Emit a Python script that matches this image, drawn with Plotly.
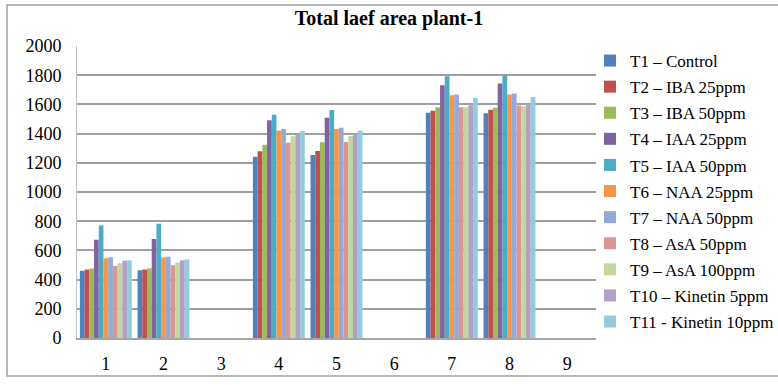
import plotly.graph_objects as go

categories = ["1", "2", "3", "4", "5", "6", "7", "8", "9"]
series_names = ["T1 – Control", "T2 – IBA 25ppm", "T3 – IBA 50ppm", "T4 – IAA 25ppm",
                "T5 – IAA 50ppm", "T6 – NAA 25ppm", "T7 – NAA 50ppm", "T8 – AsA 50ppm",
                "T9 – AsA 100ppm", "T10 – Kinetin 5ppm", "T11 - Kinetin 10ppm"]
# values per series for categories 1..9 (None = empty)
T1 = [460, 464, None, 1242, 1254, None, 1542, 1540, None]
T2 = [469, 469, None, 1279, 1281, None, 1556, 1563, None]
T3 = [476, 478, None, 1324, 1340, None, 1581, 1577, None]
T4 = [673, 678, None, 1491, 1509, None, 1732, 1743, None]
T5 = [771, 783, None, 1529, 1561, None, 1793, 1800, None]
T6 = [546, 551, None, 1422, 1431, None, 1663, 1668, None]
T7 = [553, 557, None, 1431, 1440, None, 1668, 1675, None]
T8 = [494, 498, None, 1338, 1342, None, 1581, 1593, None]
T9 = [512, 517, None, 1381, 1383, None, 1581, 1588, None]
T10 = [530, 532, None, 1390, 1402, None, 1595, 1606, None]
T11 = [532, 539, None, 1418, 1422, None, 1645, 1650, None]
series_values = [T1, T2, T3, T4, T5, T6, T7, T8, T9, T10, T11]
colors = ["#4F81BD", "#C0504D", "#9BBB59", "#8064A2", "#4BACC6", "#F79646",
          "#95A9D6", "#DA9694", "#C3D69B", "#B1A0C7", "#93CDDD"]
y_ticks = [0, 200, 400, 600, 800, 1000, 1200, 1400, 1600, 1800, 2000]

fig = go.Figure()
for i, (name, vals) in enumerate(zip(series_names, series_values)):
    fig.add_trace(go.Bar(x=categories, y=vals, name=name, legendgroup=str(i),
                         marker=dict(color=colors[i], line=dict(width=0))))

W, H = 778, 385
l, r, t, b = 77, 182, 46, 47
pw, ph = W - l - r, H - t - b

def px_x(x):
    return (x - l) / pw

def px_y(y):
    return (H - b - y) / ph

serif = "Liberation Serif, Times New Roman, serif"
fig.update_layout(
    width=W, height=H,
    margin=dict(l=l, r=r, t=t, b=b, autoexpand=False),
    paper_bgcolor="white", plot_bgcolor="white",
    barmode="group", bargap=0.1, bargroupgap=0,
    font=dict(family=serif, size=18, color="black"),
    title=dict(text="<b>Total laef area plant-1</b>", x=0.5, xanchor="center",
               y=1 - 18 / H, yanchor="middle", font=dict(size=20, family=serif)),
    xaxis=dict(type="category", categoryorder="array", categoryarray=categories,
               showgrid=False, showline=True, linecolor="#A6A6A6", linewidth=2,
               ticks="", tickfont=dict(size=18, family=serif), ticklabelstandoff=8),
    yaxis=dict(range=[0, 2000], tickvals=y_ticks, showgrid=True, gridcolor="#A0A0A0",
               gridwidth=1.5, showline=True, linecolor="#C0C0C0", linewidth=1,
               zeroline=False, ticks="", tickfont=dict(size=18, family=serif),
               ticklabelstandoff=11),
    legend=dict(x=px_x(590), y=px_y(43), xanchor="left", yanchor="top",
                font=dict(size=17, family=serif), tracegroupgap=1,
                itemwidth=30, bgcolor="rgba(0,0,0,0)", maxheight=330),
    shapes=[dict(type="rect", xref="paper", yref="paper",
                 x0=px_x(7), x1=px_x(782), y0=px_y(376), y1=px_y(5),
                 line=dict(color="#A0A0A0", width=1.5), fillcolor="rgba(0,0,0,0)")],
)

fig.write_html("out.html", config={"displayModeBar": False},
               post_script="document.body.style.margin='0';document.body.style.overflow='hidden';")
